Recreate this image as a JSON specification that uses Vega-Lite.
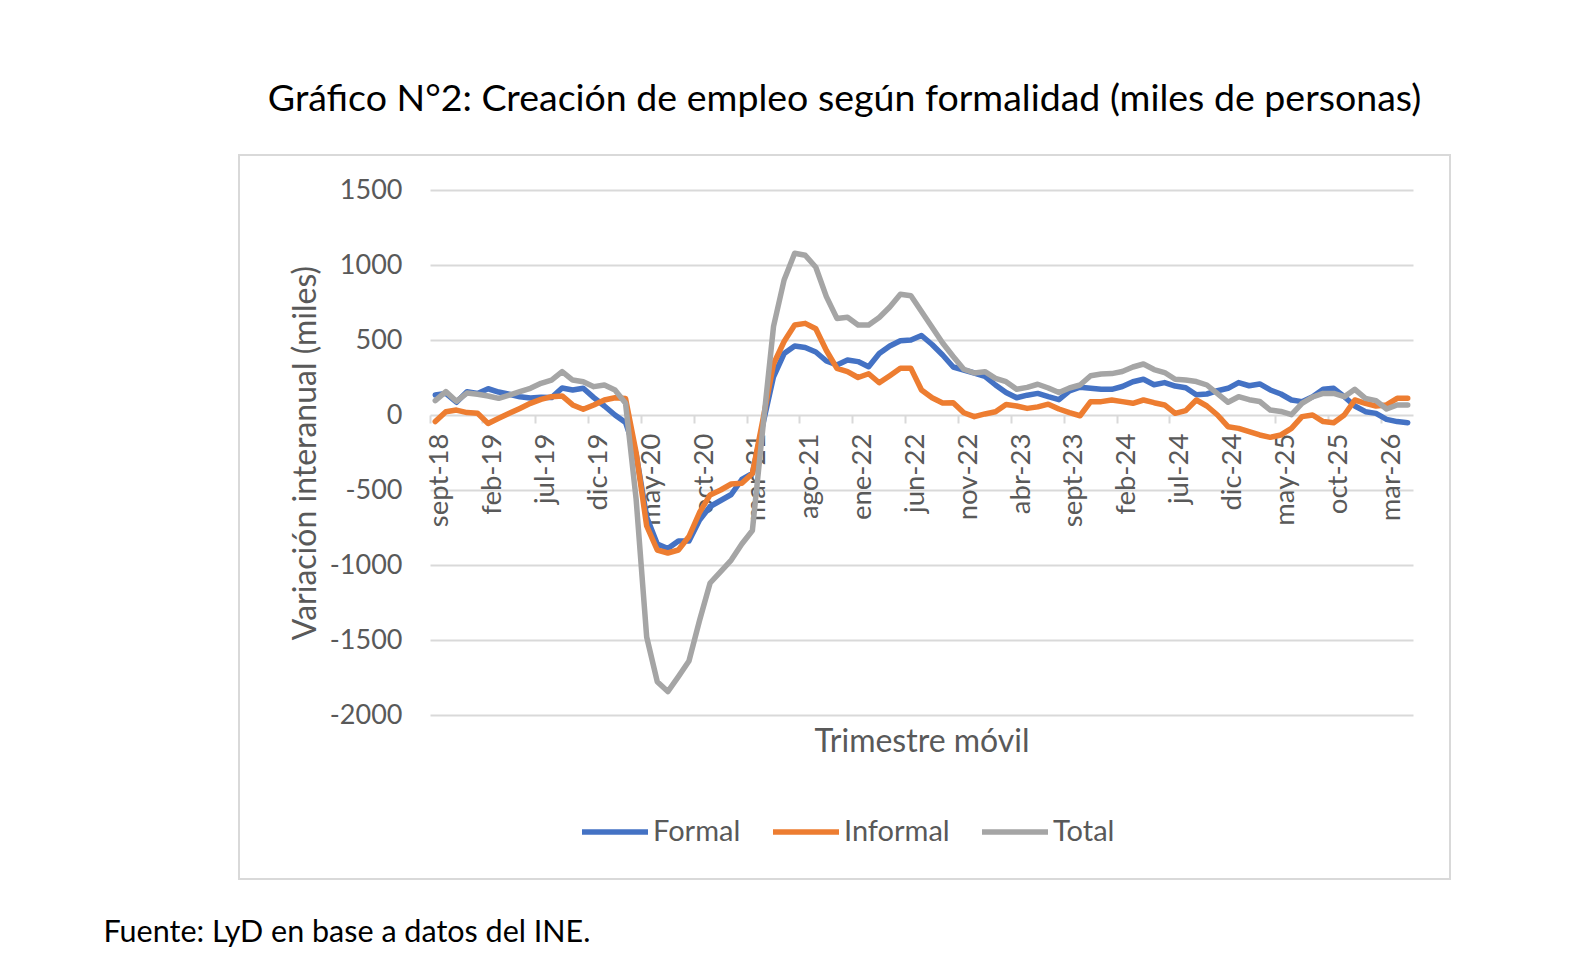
{
  "$schema": "https://vega.github.io/schema/vega-lite/v6.json",
  "width": 1211,
  "height": 724,
  "autosize": {"type": "none"},
  "padding": {"left": 239, "top": 155, "right": 146, "bottom": 99},
  "config": {"font": "Lato", "view": {"stroke": "#d9d9d9", "strokeWidth": 2}},
  "title": {
    "text": "Gráfico N°2: Creación de empleo según formalidad (miles de personas)",
    "anchor": "middle", "frame": "group", "fontSize": 37.5, "fontWeight": "normal",
    "color": "#000000", "baseline": "alphabetic", "offset": 7
  },
  "datasets": {
    "empleo": [
      {"m":"sept-18","s":"Formal","v":133},{"m":"oct-18","s":"Formal","v":144},{"m":"nov-18","s":"Formal","v":85},{"m":"dic-18","s":"Formal","v":155},{"m":"ene-19","s":"Formal","v":144},
      {"m":"feb-19","s":"Formal","v":175},{"m":"mar-19","s":"Formal","v":153},{"m":"abr-19","s":"Formal","v":138},{"m":"may-19","s":"Formal","v":122},{"m":"jun-19","s":"Formal","v":114},
      {"m":"jul-19","s":"Formal","v":118},{"m":"ago-19","s":"Formal","v":116},{"m":"sept-19","s":"Formal","v":180},{"m":"oct-19","s":"Formal","v":167},{"m":"nov-19","s":"Formal","v":178},
      {"m":"dic-19","s":"Formal","v":116},{"m":"ene-20","s":"Formal","v":60},{"m":"feb-20","s":"Formal","v":0},{"m":"mar-20","s":"Formal","v":-50},{"m":"abr-20","s":"Formal","v":-260},
      {"m":"may-20","s":"Formal","v":-680},{"m":"jun-20","s":"Formal","v":-860},{"m":"jul-20","s":"Formal","v":-890},{"m":"ago-20","s":"Formal","v":-840},{"m":"sept-20","s":"Formal","v":-840},
      {"m":"oct-20","s":"Formal","v":-700},{"m":"nov-20","s":"Formal","v":-610},{"m":"dic-20","s":"Formal","v":-570},{"m":"ene-21","s":"Formal","v":-530},{"m":"feb-21","s":"Formal","v":-430},
      {"m":"mar-21","s":"Formal","v":-390},{"m":"abr-21","s":"Formal","v":-60},{"m":"may-21","s":"Formal","v":255},{"m":"jun-21","s":"Formal","v":410},{"m":"jul-21","s":"Formal","v":460},
      {"m":"ago-21","s":"Formal","v":450},{"m":"sept-21","s":"Formal","v":420},{"m":"oct-21","s":"Formal","v":360},{"m":"nov-21","s":"Formal","v":333},{"m":"dic-21","s":"Formal","v":367},
      {"m":"ene-22","s":"Formal","v":356},{"m":"feb-22","s":"Formal","v":322},{"m":"mar-22","s":"Formal","v":410},{"m":"abr-22","s":"Formal","v":460},{"m":"may-22","s":"Formal","v":495},
      {"m":"jun-22","s":"Formal","v":500},{"m":"jul-22","s":"Formal","v":530},{"m":"ago-22","s":"Formal","v":470},{"m":"sept-22","s":"Formal","v":400},{"m":"oct-22","s":"Formal","v":320},
      {"m":"nov-22","s":"Formal","v":300},{"m":"dic-22","s":"Formal","v":280},{"m":"ene-23","s":"Formal","v":258},{"m":"feb-23","s":"Formal","v":200},{"m":"mar-23","s":"Formal","v":150},
      {"m":"abr-23","s":"Formal","v":115},{"m":"may-23","s":"Formal","v":132},{"m":"jun-23","s":"Formal","v":144},{"m":"jul-23","s":"Formal","v":122},{"m":"ago-23","s":"Formal","v":102},
      {"m":"sept-23","s":"Formal","v":160},{"m":"oct-23","s":"Formal","v":185},{"m":"nov-23","s":"Formal","v":178},{"m":"dic-23","s":"Formal","v":171},{"m":"ene-24","s":"Formal","v":171},
      {"m":"feb-24","s":"Formal","v":190},{"m":"mar-24","s":"Formal","v":222},{"m":"abr-24","s":"Formal","v":238},{"m":"may-24","s":"Formal","v":202},{"m":"jun-24","s":"Formal","v":216},
      {"m":"jul-24","s":"Formal","v":193},{"m":"ago-24","s":"Formal","v":182},{"m":"sept-24","s":"Formal","v":135},{"m":"oct-24","s":"Formal","v":140},{"m":"nov-24","s":"Formal","v":162},
      {"m":"dic-24","s":"Formal","v":178},{"m":"ene-25","s":"Formal","v":216},{"m":"feb-25","s":"Formal","v":195},{"m":"mar-25","s":"Formal","v":207},{"m":"abr-25","s":"Formal","v":167},
      {"m":"may-25","s":"Formal","v":140},{"m":"jun-25","s":"Formal","v":100},{"m":"jul-25","s":"Formal","v":89},{"m":"ago-25","s":"Formal","v":122},{"m":"sept-25","s":"Formal","v":171},
      {"m":"oct-25","s":"Formal","v":178},{"m":"nov-25","s":"Formal","v":122},{"m":"dic-25","s":"Formal","v":60},{"m":"ene-26","s":"Formal","v":22},{"m":"feb-26","s":"Formal","v":11},
      {"m":"mar-26","s":"Formal","v":-29},{"m":"abr-26","s":"Formal","v":-44},{"m":"may-26","s":"Formal","v":-51},

      {"m":"sept-18","s":"Informal","v":-44},{"m":"oct-18","s":"Informal","v":22},{"m":"nov-18","s":"Informal","v":33},{"m":"dic-18","s":"Informal","v":16},{"m":"ene-19","s":"Informal","v":11},
      {"m":"feb-19","s":"Informal","v":-56},{"m":"mar-19","s":"Informal","v":-22},{"m":"abr-19","s":"Informal","v":11},{"m":"may-19","s":"Informal","v":44},{"m":"jun-19","s":"Informal","v":78},
      {"m":"jul-19","s":"Informal","v":104},{"m":"ago-19","s":"Informal","v":122},{"m":"sept-19","s":"Informal","v":127},{"m":"oct-19","s":"Informal","v":67},{"m":"nov-19","s":"Informal","v":38},
      {"m":"dic-19","s":"Informal","v":67},{"m":"ene-20","s":"Informal","v":100},{"m":"feb-20","s":"Informal","v":115},{"m":"mar-20","s":"Informal","v":110},{"m":"abr-20","s":"Informal","v":-250},
      {"m":"may-20","s":"Informal","v":-740},{"m":"jun-20","s":"Informal","v":-900},{"m":"jul-20","s":"Informal","v":-920},{"m":"ago-20","s":"Informal","v":-900},{"m":"sept-20","s":"Informal","v":-810},
      {"m":"oct-20","s":"Informal","v":-650},{"m":"nov-20","s":"Informal","v":-533},{"m":"dic-20","s":"Informal","v":-500},{"m":"ene-21","s":"Informal","v":-460},{"m":"feb-21","s":"Informal","v":-455},
      {"m":"mar-21","s":"Informal","v":-390},{"m":"abr-21","s":"Informal","v":-30},{"m":"may-21","s":"Informal","v":340},{"m":"jun-21","s":"Informal","v":490},{"m":"jul-21","s":"Informal","v":600},
      {"m":"ago-21","s":"Informal","v":611},{"m":"sept-21","s":"Informal","v":575},{"m":"oct-21","s":"Informal","v":430},{"m":"nov-21","s":"Informal","v":311},{"m":"dic-21","s":"Informal","v":289},
      {"m":"ene-22","s":"Informal","v":250},{"m":"feb-22","s":"Informal","v":275},{"m":"mar-22","s":"Informal","v":215},{"m":"abr-22","s":"Informal","v":262},{"m":"may-22","s":"Informal","v":311},
      {"m":"jun-22","s":"Informal","v":311},{"m":"jul-22","s":"Informal","v":167},{"m":"ago-22","s":"Informal","v":115},{"m":"sept-22","s":"Informal","v":80},{"m":"oct-22","s":"Informal","v":82},
      {"m":"nov-22","s":"Informal","v":15},{"m":"dic-22","s":"Informal","v":-11},{"m":"ene-23","s":"Informal","v":7},{"m":"feb-23","s":"Informal","v":22},{"m":"mar-23","s":"Informal","v":70},
      {"m":"abr-23","s":"Informal","v":60},{"m":"may-23","s":"Informal","v":44},{"m":"jun-23","s":"Informal","v":54},{"m":"jul-23","s":"Informal","v":72},{"m":"ago-23","s":"Informal","v":40},
      {"m":"sept-23","s":"Informal","v":16},{"m":"oct-23","s":"Informal","v":-5},{"m":"nov-23","s":"Informal","v":89},{"m":"dic-23","s":"Informal","v":89},{"m":"ene-24","s":"Informal","v":100},
      {"m":"feb-24","s":"Informal","v":89},{"m":"mar-24","s":"Informal","v":78},{"m":"abr-24","s":"Informal","v":100},{"m":"may-24","s":"Informal","v":82},{"m":"jun-24","s":"Informal","v":67},
      {"m":"jul-24","s":"Informal","v":11},{"m":"ago-24","s":"Informal","v":29},{"m":"sept-24","s":"Informal","v":100},{"m":"oct-24","s":"Informal","v":60},{"m":"nov-24","s":"Informal","v":0},
      {"m":"dic-24","s":"Informal","v":-78},{"m":"ene-25","s":"Informal","v":-89},{"m":"feb-25","s":"Informal","v":-111},{"m":"mar-25","s":"Informal","v":-133},{"m":"abr-25","s":"Informal","v":-149},
      {"m":"may-25","s":"Informal","v":-133},{"m":"jun-25","s":"Informal","v":-89},{"m":"jul-25","s":"Informal","v":-11},{"m":"ago-25","s":"Informal","v":0},{"m":"sept-25","s":"Informal","v":-44},
      {"m":"oct-25","s":"Informal","v":-51},{"m":"nov-25","s":"Informal","v":0},{"m":"dic-25","s":"Informal","v":100},{"m":"ene-26","s":"Informal","v":78},{"m":"feb-26","s":"Informal","v":60},
      {"m":"mar-26","s":"Informal","v":67},{"m":"abr-26","s":"Informal","v":111},{"m":"may-26","s":"Informal","v":111},

      {"m":"sept-18","s":"Total","v":96},{"m":"oct-18","s":"Total","v":156},{"m":"nov-18","s":"Total","v":92},{"m":"dic-18","s":"Total","v":146},{"m":"ene-19","s":"Total","v":138},
      {"m":"feb-19","s":"Total","v":127},{"m":"mar-19","s":"Total","v":111},{"m":"abr-19","s":"Total","v":133},{"m":"may-19","s":"Total","v":156},{"m":"jun-19","s":"Total","v":178},
      {"m":"jul-19","s":"Total","v":211},{"m":"ago-19","s":"Total","v":233},{"m":"sept-19","s":"Total","v":289},{"m":"oct-19","s":"Total","v":233},{"m":"nov-19","s":"Total","v":222},
      {"m":"dic-19","s":"Total","v":189},{"m":"ene-20","s":"Total","v":200},{"m":"feb-20","s":"Total","v":167},{"m":"mar-20","s":"Total","v":78},{"m":"abr-20","s":"Total","v":-560},
      {"m":"may-20","s":"Total","v":-1480},{"m":"jun-20","s":"Total","v":-1778},{"m":"jul-20","s":"Total","v":-1844},{"m":"ago-20","s":"Total","v":-1744},{"m":"sept-20","s":"Total","v":-1640},
      {"m":"oct-20","s":"Total","v":-1370},{"m":"nov-20","s":"Total","v":-1120},{"m":"dic-20","s":"Total","v":-1044},{"m":"ene-21","s":"Total","v":-967},{"m":"feb-21","s":"Total","v":-860},
      {"m":"mar-21","s":"Total","v":-770},{"m":"abr-21","s":"Total","v":-80},{"m":"may-21","s":"Total","v":590},{"m":"jun-21","s":"Total","v":900},{"m":"jul-21","s":"Total","v":1078},
      {"m":"ago-21","s":"Total","v":1065},{"m":"sept-21","s":"Total","v":985},{"m":"oct-21","s":"Total","v":789},{"m":"nov-21","s":"Total","v":644},{"m":"dic-21","s":"Total","v":651},
      {"m":"ene-22","s":"Total","v":600},{"m":"feb-22","s":"Total","v":600},{"m":"mar-22","s":"Total","v":650},{"m":"abr-22","s":"Total","v":720},{"m":"may-22","s":"Total","v":805},
      {"m":"jun-22","s":"Total","v":795},{"m":"jul-22","s":"Total","v":690},{"m":"ago-22","s":"Total","v":585},{"m":"sept-22","s":"Total","v":480},{"m":"oct-22","s":"Total","v":390},
      {"m":"nov-22","s":"Total","v":305},{"m":"dic-22","s":"Total","v":280},{"m":"ene-23","s":"Total","v":289},{"m":"feb-23","s":"Total","v":244},{"m":"mar-23","s":"Total","v":222},
      {"m":"abr-23","s":"Total","v":172},{"m":"may-23","s":"Total","v":184},{"m":"jun-23","s":"Total","v":205},{"m":"jul-23","s":"Total","v":180},{"m":"ago-23","s":"Total","v":150},
      {"m":"sept-23","s":"Total","v":180},{"m":"oct-23","s":"Total","v":200},{"m":"nov-23","s":"Total","v":262},{"m":"dic-23","s":"Total","v":273},{"m":"ene-24","s":"Total","v":276},
      {"m":"feb-24","s":"Total","v":290},{"m":"mar-24","s":"Total","v":320},{"m":"abr-24","s":"Total","v":340},{"m":"may-24","s":"Total","v":303},{"m":"jun-24","s":"Total","v":283},
      {"m":"jul-24","s":"Total","v":238},{"m":"ago-24","s":"Total","v":233},{"m":"sept-24","s":"Total","v":223},{"m":"oct-24","s":"Total","v":200},{"m":"nov-24","s":"Total","v":142},
      {"m":"dic-24","s":"Total","v":85},{"m":"ene-25","s":"Total","v":122},{"m":"feb-25","s":"Total","v":102},{"m":"mar-25","s":"Total","v":90},{"m":"abr-25","s":"Total","v":33},
      {"m":"may-25","s":"Total","v":24},{"m":"jun-25","s":"Total","v":2},{"m":"jul-25","s":"Total","v":78},{"m":"ago-25","s":"Total","v":120},{"m":"sept-25","s":"Total","v":144},
      {"m":"oct-25","s":"Total","v":144},{"m":"nov-25","s":"Total","v":122},{"m":"dic-25","s":"Total","v":171},{"m":"ene-26","s":"Total","v":111},{"m":"feb-26","s":"Total","v":96},
      {"m":"mar-26","s":"Total","v":40},{"m":"abr-26","s":"Total","v":67},{"m":"may-26","s":"Total","v":67}
    ]
  },
  "data": {"name": "empleo"},
  "resolve": {"axis": {"x": "independent"}},
  "layer": [
    {
      "transform": [{"filter": "datum.s !== 'Total'"}],
      "mark": {"type": "line", "strokeWidth": 5.5, "strokeCap": "round", "strokeJoin": "round"},
      "encoding": {
        "x": {
          "field": "m", "type": "nominal",
          "scale": {
            "type": "band",
            "domain": ["sept-18","oct-18","nov-18","dic-18","ene-19","feb-19","mar-19","abr-19","may-19","jun-19","jul-19","ago-19","sept-19","oct-19","nov-19","dic-19","ene-20","feb-20","mar-20","abr-20","may-20","jun-20","jul-20","ago-20","sept-20","oct-20","nov-20","dic-20","ene-21","feb-21","mar-21","abr-21","may-21","jun-21","jul-21","ago-21","sept-21","oct-21","nov-21","dic-21","ene-22","feb-22","mar-22","abr-22","may-22","jun-22","jul-22","ago-22","sept-22","oct-22","nov-22","dic-22","ene-23","feb-23","mar-23","abr-23","may-23","jun-23","jul-23","ago-23","sept-23","oct-23","nov-23","dic-23","ene-24","feb-24","mar-24","abr-24","may-24","jun-24","jul-24","ago-24","sept-24","oct-24","nov-24","dic-24","ene-25","feb-25","mar-25","abr-25","may-25","jun-25","jul-25","ago-25","sept-25","oct-25","nov-25","dic-25","ene-26","feb-26","mar-26","abr-26","may-26"],
            "range": [191, 1174],
            "paddingInner": 0,
            "paddingOuter": 0
          },
          "axis": {
            "values": ["sept-18","feb-19","jul-19","dic-19","may-20","oct-20","mar-21","ago-21","ene-22","jun-22","nov-22","abr-23","sept-23","feb-24","jul-24","dic-24","may-25","oct-25","mar-26"],
            "orient": "bottom",
            "offset": -464,
            "domain": false,
            "grid": false,
            "ticks": true,
            "tickColor": "#d9d9d9",
            "tickWidth": 2,
            "tickSize": 8,
            "bandPosition": 0,
            "labelAngle": 270,
            "labelOffset": 5,
            "labelPadding": 10,
            "labelFontSize": 27.5,
            "labelColor": "#595959",
            "labelOverlap": false,
            "labelBound": false,
            "labelFlush": false,
            "title": "Trimestre móvil",
            "titleFontSize": 32,
            "titleFontWeight": "normal",
            "titleColor": "#595959",
            "titleY": 326,
            "titleBaseline": "middle"
          }
        },
        "y": {
          "field": "v", "type": "quantitative",
          "scale": {"domain": [-2000, 1500], "range": [560, 35], "nice": false, "zero": false},
          "axis": {
            "values": [-2000, -1500, -1000, -500, 0, 500, 1000, 1500],
            "labelExpr": "'' + datum.value",
            "orient": "left",
            "offset": -191,
            "domain": false,
            "ticks": false,
            "tickSize": 0,
            "grid": true,
            "gridColor": "#d9d9d9",
            "gridWidth": 2,
            "labelPadding": 28,
            "labelFontSize": 27,
            "labelColor": "#595959",
            "title": "Variación interanual (miles)",
            "titleFontSize": 32,
            "titleFontWeight": "normal",
            "titleColor": "#595959",
            "titleX": -125,
            "titleBaseline": "middle"
          }
        },
        "color": {
          "field": "s", "type": "nominal",
          "scale": {"domain": ["Formal", "Informal", "Total"], "range": ["#4472C4", "#ED7D31", "#A5A5A5"]},
          "legend": {
            "orient": "none",
            "legendX": 340,
            "legendY": 641,
            "direction": "horizontal",
            "title": null,
            "padding": 0,
            "symbolType": "stroke",
            "symbolSize": 4356,
            "symbolStrokeWidth": 5.5,
            "labelFontSize": 29,
            "labelColor": "#595959",
            "labelOffset": 2,
            "columnPadding": 21
          }
        }
      }
    },
    {
      "transform": [{"filter": "datum.s === 'Total'"}],
      "mark": {"type": "line", "strokeWidth": 5.5, "strokeCap": "round", "strokeJoin": "round"},
      "encoding": {
        "x": {
          "field": "m", "type": "nominal",
          "axis": {
            "orient": "bottom",
            "offset": 0,
            "domain": false,
            "ticks": false,
            "labels": false,
            "grid": false,
            "title": "Fuente: LyD en base a datos del INE.",
            "titleFontSize": 30.5,
            "titleFontWeight": "normal",
            "titleColor": "#000000",
            "titleX": -136,
            "titleY": 62,
            "titleAlign": "left",
            "titleBaseline": "alphabetic"
          }
        },
        "y": {"field": "v", "type": "quantitative"},
        "color": {"field": "s", "type": "nominal"}
      }
    }
  ]
}
